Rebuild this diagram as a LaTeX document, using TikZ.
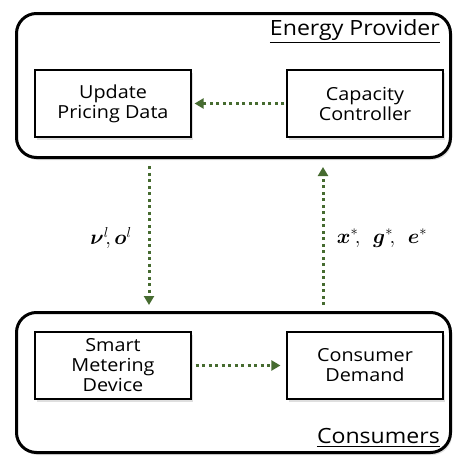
\documentclass[tikz,border=0pt]{standalone}
\usepackage{fontspec}
\setmainfont{Open Sans}[FakeStretch=1.1]
\usepackage{amsmath}
\usepackage{bm}
\usetikzlibrary{arrows.meta,shadows}
\definecolor{flowgreen}{RGB}{70,107,48}
\tikzset{
  outerbox/.style={draw=black, line width=3pt, rounded corners=20pt, fill=white,
    minimum width=434pt, anchor=center,
    drop shadow={shadow xshift=1.5pt, shadow yshift=-2.5pt, opacity=0.25}},
  innerbox/.style={draw=black, line width=1.2pt, fill=white,
    minimum width=156pt, minimum height=67pt, align=center, inner sep=2pt,
    font=\fontsize{18}{20}\selectfont,
    drop shadow={shadow xshift=1.5pt, shadow yshift=-2.5pt, opacity=0.25}},
  titletext/.style={inner sep=0pt, font=\fontsize{21}{22}\selectfont},
  uline/.style={line width=1.6pt},
  flow/.style={draw=flowgreen, line width=3pt, dash pattern=on 3pt off 3.5pt,
    -{Triangle[length=9pt,width=10pt]}},
  mathlabel/.style={inner sep=0pt, font=\fontsize{20}{22}\selectfont}
}
\begin{document}
\begin{tikzpicture}[x=1pt,y=-1pt]
\useasboundingbox (0,0) rectangle (454,456);
\node[outerbox, minimum height=144pt] (top) at (233.5,85.5) {};
\node[outerbox, minimum height=140pt] (bot) at (233.5,382.5) {};

\node[innerbox] (upd) at (113,103.5) {Update\\Pricing Data};
\node[innerbox] (cap) at (365,103.5) {Capacity\\Controller};
\node[innerbox] (smd) at (113,365.5) {Smart\\Metering\\Device};
\node[innerbox] (cd) at (365,365.5) {Consumer\\Demand};

\node[titletext, anchor=base east] (ep) at (440,35) {Energy Provider};
\draw[uline] ([yshift=-7.5pt]ep.base west) -- ([yshift=-7.5pt]ep.base east);
\node[titletext, anchor=base east] (cons) at (440,443) {Consumers};
\draw[uline] ([yshift=-3.5pt]cons.base west) -- ([yshift=-3.5pt]cons.base east);

\coordinate (dl) at (149,0);
\coordinate (ur) at (323,0);

\draw[flow, shorten <=2pt, shorten >=3pt] (cap.west) -- (upd.east);
\draw[flow, shorten <=4pt, shorten >=6pt] (smd.east) -- (cd.west);
\draw[flow, shorten <=7pt, shorten >=6pt] (top.south -| dl) -- (bot.north -| dl);
\draw[flow, shorten <=6pt, shorten >=8pt] (bot.north -| ur) -- (top.south -| ur);

\node[mathlabel] (lab1) at (111,238) {$\bm{\nu}^{l}\!,\bm{o}^{l}$};
\node[mathlabel] (lab2) at (382,238) {$\bm{x}^{*}\!,\;\,\bm{g}^{*}\!,\;\,\bm{e}^{*}$};
\end{tikzpicture}
\end{document}
